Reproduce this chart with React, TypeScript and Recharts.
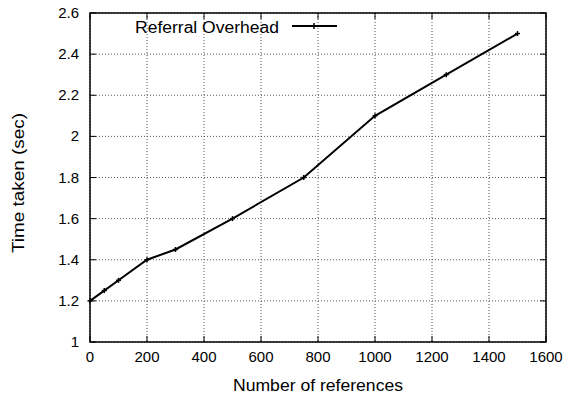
import React from 'react';
import { LineChart, Line, XAxis, YAxis, CartesianGrid } from 'recharts';

const references = [0, 50, 100, 200, 300, 500, 750, 1000, 1250, 1500];
const timeTaken = [1.2, 1.25, 1.3, 1.4, 1.45, 1.6, 1.8, 2.1, 2.3, 2.5];
const xTicks = [0, 200, 400, 600, 800, 1000, 1200, 1400, 1600];
const yTicks = [1, 1.2, 1.4, 1.6, 1.8, 2, 2.2, 2.4, 2.6];
const seriesName = 'Referral Overhead';
const xTitle = 'Number of references';
const yTitle = 'Time taken (sec)';

const data = references.map((r, i) => ({ refs: r, time: timeTaken[i] }));

const W = 568;
const H = 396;
const PLOT_TOP = 13;
const PLOT_BOTTOM = 342;
const PLOT_LEFT = 90;
const PLOT_RIGHT = 546;
const TICK_LEN = 6;
const FONT = '"Liberation Sans", Arial, Helvetica, sans-serif';

const XTick = (props: any) => {
  const { x, payload } = props;
  return (
    <g>
      <line x1={x} x2={x} y1={PLOT_BOTTOM} y2={PLOT_BOTTOM - TICK_LEN} stroke="#000" strokeWidth={1} />
      <line x1={x} x2={x} y1={PLOT_TOP} y2={PLOT_TOP + TICK_LEN} stroke="#000" strokeWidth={1} />
      <text x={x} y={PLOT_BOTTOM + 20} textAnchor="middle" fontFamily={FONT} fontSize={15} fill="#000">
        {payload.value}
      </text>
    </g>
  );
};

const YTick = (props: any) => {
  const { y, payload } = props;
  return (
    <g>
      <line x1={PLOT_LEFT} x2={PLOT_LEFT + TICK_LEN} y1={y} y2={y} stroke="#000" strokeWidth={1} />
      <line x1={PLOT_RIGHT} x2={PLOT_RIGHT - TICK_LEN} y1={y} y2={y} stroke="#000" strokeWidth={1} />
      <text x={PLOT_LEFT - 11} y={y + 5} textAnchor="end" fontFamily={FONT} fontSize={15} fill="#000">
        {payload.value}
      </text>
    </g>
  );
};

const PlusDot = (props: any) => {
  const { cx, cy } = props;
  if (cx == null || cy == null) return null;
  return (
    <g>
      <line x1={cx - 2.5} x2={cx + 2.5} y1={cy} y2={cy} stroke="#000" strokeWidth={1.5} />
      <line x1={cx} x2={cx} y1={cy - 2.5} y2={cy + 2.5} stroke="#000" strokeWidth={1.5} />
    </g>
  );
};

export default function App() {
  const legendY = 26;
  return (
    <div style={{ position: 'absolute', left: 0, top: 0, width: W, height: H, background: '#fff' }}>
      <LineChart
        width={W}
        height={H}
        data={data}
        margin={{ top: PLOT_TOP, right: W - PLOT_RIGHT, bottom: 0, left: 0 }}
      >
        <CartesianGrid stroke="#555" strokeDasharray="1 2" strokeWidth={1} />
        <XAxis
          dataKey="refs"
          type="number"
          domain={[0, 1600]}
          ticks={xTicks}
          tickLine={false}
          axisLine={false}
          tick={<XTick />}
          interval={0}
          height={H - PLOT_BOTTOM}
        />
        <YAxis
          type="number"
          domain={[1, 2.6]}
          ticks={yTicks}
          tickLine={false}
          axisLine={false}
          tick={<YTick />}
          interval={0}
          width={PLOT_LEFT}
        />
        <Line
          dataKey="time"
          name={seriesName}
          stroke="#000"
          strokeWidth={2}
          dot={<PlusDot />}
          activeDot={false}
          isAnimationActive={false}
        />
        <rect x={PLOT_LEFT} y={PLOT_TOP} width={PLOT_RIGHT - PLOT_LEFT} height={PLOT_BOTTOM - PLOT_TOP} fill="none" stroke="#000" strokeWidth={1.5} />
        <g>
          <text
            x={279}
            y={legendY + 7}
            textAnchor="end"
            fontFamily={FONT}
            fontSize={16}
            textLength={144}
            lengthAdjust="spacingAndGlyphs"
            fill="#000"
          >
            {seriesName}
          </text>
          <line x1={292} x2={337} y1={legendY} y2={legendY} stroke="#000" strokeWidth={2} />
          <line x1={311} x2={317} y1={legendY} y2={legendY} stroke="#000" strokeWidth={1.5} />
          <line x1={314} x2={314} y1={legendY - 3} y2={legendY + 3} stroke="#000" strokeWidth={1.5} />
        </g>
        <text
          x={318}
          y={391}
          textAnchor="middle"
          fontFamily={FONT}
          fontSize={16}
          textLength={170}
          lengthAdjust="spacingAndGlyphs"
          fill="#000"
        >
          {xTitle}
        </text>
        <text
          x={0}
          y={0}
          transform={`translate(24, 183) rotate(-90)`}
          textAnchor="middle"
          fontFamily={FONT}
          fontSize={16}
          textLength={140}
          lengthAdjust="spacingAndGlyphs"
          fill="#000"
        >
          {yTitle}
        </text>
      </LineChart>
    </div>
  );
}
